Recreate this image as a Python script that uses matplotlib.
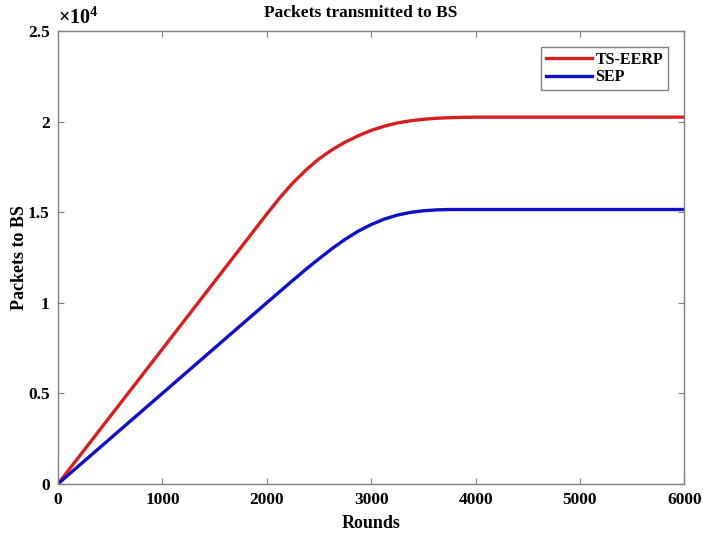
import numpy as np
import matplotlib
matplotlib.use("Agg")
import matplotlib.pyplot as plt
from matplotlib.ticker import FuncFormatter

# -----------------------------
# Daten
# -----------------------------
rounds_ts = [0, 500, 1000, 1500, 2000, 2125, 2250, 2375, 2500, 2625, 2750,
             2875, 3000, 3125, 3250, 3375, 3500, 3625, 3750, 3875, 4000,
             5000, 6000]
packets_ts = [0, 3725, 7450, 11175, 14900, 15800, 16620, 17330, 17950, 18450,
              18870, 19220, 19520, 19750, 19930, 20050, 20130, 20190, 20220,
              20240, 20250, 20250, 20250]

rounds_sep = [0, 500, 1000, 1500, 2000, 2125, 2250, 2375, 2500, 2625, 2750,
              2875, 3000, 3125, 3250, 3375, 3500, 3625, 3750, 4000, 5000, 6000]
packets_sep = [0, 2500, 5000, 7500, 10000, 10620, 11240, 11850, 12430, 12990,
               13500, 13950, 14320, 14620, 14840, 14990, 15080, 15130, 15150,
               15150, 15150, 15150]

xticks = [0, 1000, 2000, 3000, 4000, 5000, 6000]
yticks = [0, 5000, 10000, 15000, 20000, 25000]

# -----------------------------
# Stil (MATLAB-artig)
# -----------------------------
plt.rcParams["font.family"] = ["Liberation Serif", "DejaVu Serif"]
plt.rcParams["font.weight"] = "bold"
plt.rcParams["mathtext.fontset"] = "custom"
plt.rcParams["mathtext.rm"] = "Liberation Serif"
plt.rcParams["mathtext.bf"] = "Liberation Serif:bold"

axis_gray = "#7f7f7f"

fig = plt.figure(figsize=(7.03, 5.37), dpi=100)
ax = fig.add_axes([0.0825, 0.099, 0.891, 0.843])

ax.plot(rounds_ts, packets_ts, color="#d62020", linewidth=2.4, label="TS-EERP")
ax.plot(rounds_sep, packets_sep, color="#1010c8", linewidth=2.4, label="SEP")

ax.set_xlim(0, 6000)
ax.set_ylim(0, 25000)
ax.set_xticks(xticks)
ax.set_yticks(yticks)
ax.yaxis.set_major_formatter(FuncFormatter(lambda v, p: f"{v / 1e4:g}"))

for s in ax.spines.values():
    s.set_color(axis_gray)
    s.set_linewidth(1.0)
ax.tick_params(direction="in", length=4, color=axis_gray, labelsize=12.5,
               top=True, right=True, pad=6)
for lab in ax.get_xticklabels() + ax.get_yticklabels():
    lab.set_fontweight("bold")

ax.text(0.0, 1.006, r"$\times10^{\mathbf{4}}$", transform=ax.transAxes,
        fontsize=14.5, ha="left", va="bottom")

ax.set_title("Packets transmitted to BS", fontsize=12.5, fontweight="bold",
             pad=10, x=0.483)
ax.set_xlabel("Rounds", fontsize=13, fontweight="bold", labelpad=5)
ax.set_ylabel("Packets to BS", fontsize=13, fontweight="bold", labelpad=0)

leg = ax.legend(loc="upper right", bbox_to_anchor=(0.974, 0.965),
                borderaxespad=0, fontsize=11.5,
                handlelength=2.9, handletextpad=0.2, borderpad=0.3,
                labelspacing=0.1, fancybox=False, framealpha=1)
leg.get_frame().set_edgecolor(axis_gray)
leg.get_frame().set_linewidth(1.0)
for t in leg.get_texts():
    t.set_fontweight("bold")

fig.savefig("out.png", dpi=100)
